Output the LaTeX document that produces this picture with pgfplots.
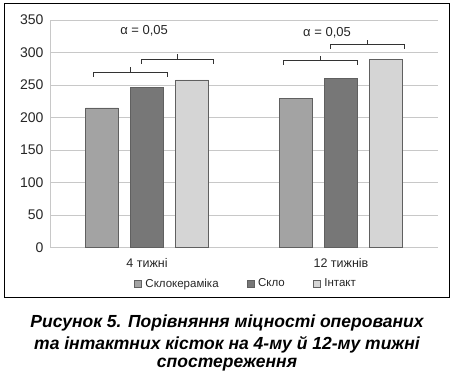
\documentclass[border=0pt]{standalone}
\usepackage{pgfplots}
\pgfplotsset{compat=1.18}
\usepackage{fontspec}
\setmainfont{Liberation Sans}
\definecolor{cA}{HTML}{A3A3A3}
\definecolor{cB}{HTML}{777777}
\definecolor{cC}{HTML}{D5D5D5}
\definecolor{edge}{HTML}{606060}
\definecolor{gridc}{HTML}{C8C8C8}
\begin{document}
\begin{tikzpicture}[x=1pt,y=1pt]
\useasboundingbox (0,0) rectangle (454,374);
\draw[line width=1pt] (4,76) rectangle (449,370);
\begin{axis}[
  at={(50pt,126.3pt)}, anchor=south west,
  scale only axis, width=388pt, height=227.7pt,
  ymin=0, ymax=350, xmin=-0.5, xmax=1.5,
  ytick={0,50,...,350},
  xtick={0,1}, xticklabels={4 тижні, 12 тижнів},
  extra x ticks={-0.5,0.5,1.5}, extra x tick labels={},
  extra x tick style={major tick length=4pt, tick style={gridc, line width=0.8pt}, grid=none, tick pos=left},
  major x tick style={draw=none},
  ymajorgrids, grid style={gridc, line width=0.6pt},
  axis line style={gridc, line width=0.8pt},
  axis x line*=bottom, axis y line*=left,
  y tick style={gridc, line width=0.6pt}, major tick length=3pt,
  yticklabel style={font=\fontsize{14}{16}\selectfont, text=black!85, xshift=-3pt},
  xticklabel style={font=\fontsize{12.5}{15}\selectfont, text=black!85, yshift=-4pt},
  /pgf/number format/assume math mode=true,
  ybar=0pt, bar width=0.17,
  clip=false,
  legend columns=3,
  legend style={at={(0.505,-0.158)}, anchor=center, draw=none, fill=none,
    font=\fontsize{11.5}{13}\selectfont, text=black!85,
    /tikz/every even column/.append style={column sep=26pt},
    /tikz/every odd column/.append style={column sep=2pt}},
  legend image code/.code={\draw[#1, draw=edge, line width=0.5pt] (0pt,-3.5pt) rectangle (7pt,3.5pt);},
]
\addplot[fill=cA, draw=edge, line width=0.6pt, bar shift=-0.232] coordinates {(0,215) (1,230)};
\addplot[fill=cB, draw=edge, line width=0.6pt, bar shift=0] coordinates {(0,246) (1,260)};
\addplot[fill=cC, draw=edge, line width=0.6pt, bar shift=0.232] coordinates {(0,258) (1,290)};
\legend{Склокераміка, Скло, Інтакт}
% brackets
\draw[black!80, line width=0.7pt] (axis cs:-0.278,263) -- (axis cs:-0.278,270) -- (axis cs:0.103,270) -- (axis cs:0.103,263);
\draw[black!80, line width=0.7pt] (axis cs:-0.088,270) -- (axis cs:-0.088,277);
\draw[black!80, line width=0.7pt] (axis cs:-0.031,283) -- (axis cs:-0.031,290) -- (axis cs:0.340,290) -- (axis cs:0.340,283);
\draw[black!80, line width=0.7pt] (axis cs:0.155,290) -- (axis cs:0.155,297);
\draw[black!80, line width=0.7pt] (axis cs:0.701,281) -- (axis cs:0.701,288) -- (axis cs:1.082,288) -- (axis cs:1.082,281);
\draw[black!80, line width=0.7pt] (axis cs:0.892,288) -- (axis cs:0.892,295);
\draw[black!80, line width=0.7pt] (axis cs:0.943,306) -- (axis cs:0.943,313) -- (axis cs:1.325,313) -- (axis cs:1.325,306);
\draw[black!80, line width=0.7pt] (axis cs:1.134,313) -- (axis cs:1.134,320);
\node[font=\fontsize{13}{15}\selectfont, text=black!85] at (axis cs:-0.015,333) {α = 0,05};
\node[font=\fontsize{13}{15}\selectfont, text=black!85] at (axis cs:0.928,331) {α = 0,05};
\end{axis}
\begin{scope}[font=\fontsize{17.5}{20}\selectfont\bfseries\itshape]
\node at (227,51) {Рисунок 5. Порівняння міцності оперованих};
\node at (227,29) {та інтактних кісток на 4-му й 12-му тижні};
\node at (227,9) {спостереження};
\end{scope}
\end{tikzpicture}
\end{document}
